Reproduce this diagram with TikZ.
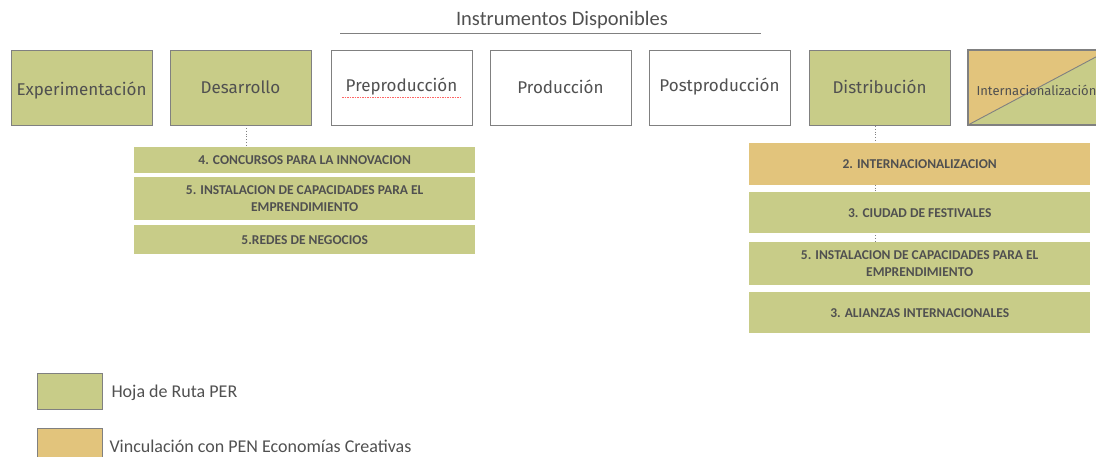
\documentclass[tikz,border=0pt]{standalone}
\usepackage{fontspec}
\setmainfont{Carlito}
\newfontfamily\labfont{Fira Sans}
\definecolor{pgreen}{RGB}{200,204,136}
\definecolor{porange}{RGB}{226,196,124}
\definecolor{pborder}{RGB}{128,128,128}
\definecolor{ptext}{RGB}{80,80,80}
\begin{document}
\begin{tikzpicture}[x=1pt,y=-1pt,
  stage/.style={draw=pborder,line width=1.3pt,minimum width=141pt,minimum height=75pt,inner sep=0pt,anchor=north west},
  stagetext/.style={text=ptext,font=\labfont\fontsize{17}{20}\selectfont},
  item/.style={minimum width=341pt,inner sep=0pt,anchor=north west,text=ptext,align=center,font=\bfseries\fontsize{13.5}{17}\selectfont},
  legbox/.style={draw=pborder,line width=0.8pt,minimum width=65pt,minimum height=36pt,inner sep=0pt,anchor=north west,fill=pgreen},
  legtext/.style={anchor=west,text=ptext,font=\fontsize{18}{20}\selectfont},
  link/.style={draw=pborder,line width=0.8pt,dotted}]
\useasboundingbox (0,0) rectangle (1096,457);
\clip (0,0) rectangle (1096,457);
% title
\node[text=ptext,font=\fontsize{20.5}{22}\selectfont] (title) at (562,20) {Instrumentos Disponibles};
\coordinate (tl) at (340,33);
\coordinate (tr) at (761,33);
\draw[pborder,line width=0.9pt] (tl) -- (tr);
% stages
\node[stage,fill=pgreen] (s1) at (11,50) {};
\node[stagetext] (s1t) at (81.5,91) {Experimentación};
\node[stage,fill=pgreen] (s2) at (170,50) {};
\node[stagetext] (s2t) at (240.5,87) {Desarrollo};
\node[stage,fill=white] (s3) at (331,50) {};
\node[stagetext] (s3t) at (401.5,87) {Preproducción};
\coordinate (u1) at (342,97);
\coordinate (u2) at (461,97);
\draw[red!60,line width=0.8pt,dash pattern=on 1.5pt off 1pt] (u1) -- (u2);
\node[stage,fill=white] (s4) at (490,50) {};
\node[stagetext] (s4t) at (560.5,87) {Producción};
\node[stage,fill=white] (s5) at (649,50) {};
\node[stagetext] (s5t) at (719.5,87) {Postproducción};
\node[stage,fill=pgreen] (s6) at (809,50) {};
\node[stagetext] (s6t) at (879.5,87) {Distribución};
% Internacionalizacion split box
\coordinate (ia) at (968,50);
\coordinate (ib) at (1109,50);
\coordinate (ic) at (1109,125);
\coordinate (id) at (968,125);
\coordinate (ie) at (1130,50);
\coordinate (if) at (1130,125);
\fill[porange] (ia) -- (ib) -- (id) -- cycle;
\fill[pgreen] (ib) -- (ie) -- (if) -- (id) -- cycle;
\draw[pborder,line width=0.9pt] (id) -- (ib);
\draw[pborder,line width=1.3pt] (ie) -- (ia) -- (id) -- (if);
\node[anchor=west,text=ptext,font=\labfont\fontsize{13}{16}\selectfont] (s7t) at (973,90) {Internacionalización};
% links
\coordinate (d1) at (246,128);
\coordinate (d2) at (246,147);
\draw[link] (d1) -- (d2);
\coordinate (e1) at (875,126);
\coordinate (e2) at (875,250);
\draw[link] (e1) -- (e2);
% left list
\node[item,fill=pgreen,minimum height=26pt] (l1) at (134,147) {4. CONCURSOS PARA LA INNOVACION};
\node[item,fill=pgreen,minimum height=43pt] (l2) at (134,177) {5. INSTALACION DE CAPACIDADES PARA EL\\EMPRENDIMIENTO};
\node[item,fill=pgreen,minimum height=29pt] (l3) at (134,225) {5.REDES DE NEGOCIOS};
% right list
\node[item,fill=porange,minimum height=42pt] (r1) at (749,143) {2. INTERNACIONALIZACION};
\node[item,fill=pgreen,minimum height=41pt] (r2) at (749,192) {3. CIUDAD DE FESTIVALES};
\node[item,fill=pgreen,minimum height=43pt] (r3) at (749,242) {5. INSTALACION DE CAPACIDADES PARA EL\\EMPRENDIMIENTO};
\node[item,fill=pgreen,minimum height=41pt] (r4) at (749,292) {3. ALIANZAS INTERNACIONALES};
% legend
\node[legbox,fill=pgreen] (g1) at (37,373) {};
\node[legtext] (g1t) at (108,393) {Hoja de Ruta PER};
\node[legbox,fill=porange] (g2) at (37,428) {};
\node[legtext] (g2t) at (106,446) {Vinculación con PEN Economías Creativas};
\end{tikzpicture}
\end{document}
